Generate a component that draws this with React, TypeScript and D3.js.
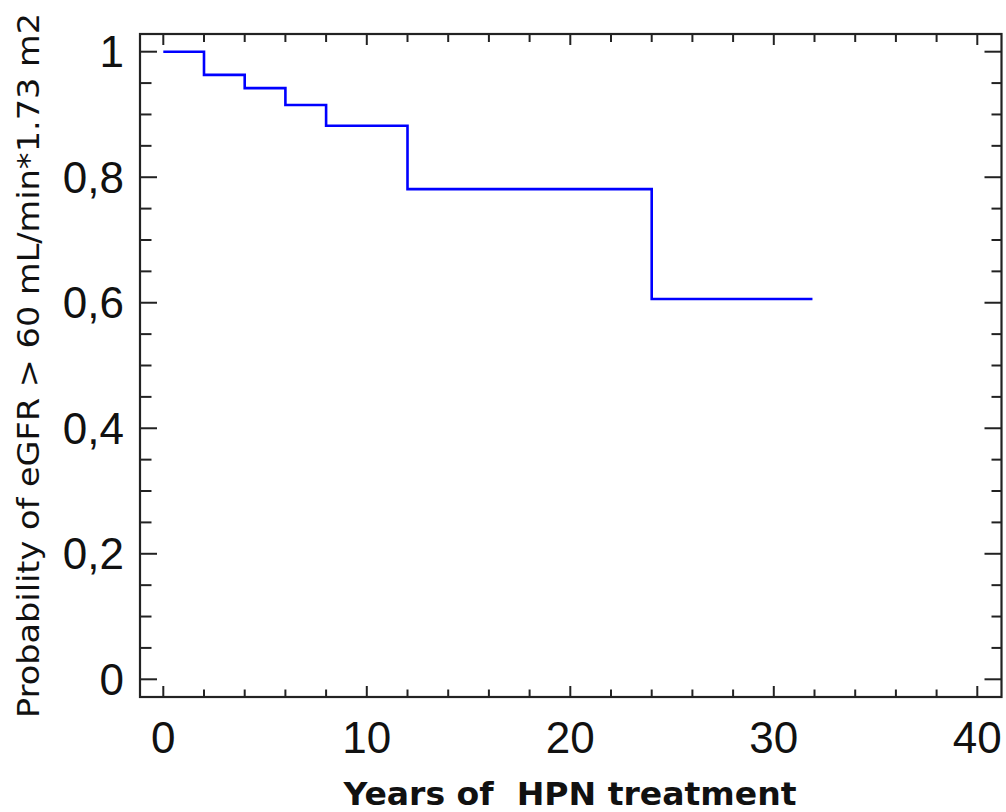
import React from "react";
import * as d3 from "d3";

const times = [0, 2, 4, 6, 8, 12, 24, 31.9];
const survival = [1, 0.963, 0.942, 0.915, 0.882, 0.781, 0.606, 0.606];
const xMajorTicks = [0, 10, 20, 30, 40];
const yMajorTicks = [0, 0.2, 0.4, 0.6, 0.8, 1];
const yTickLabels = ["0", "0,2", "0,4", "0,6", "0,8", "1"];
const xLabel = "Years of\u00a0 HPN treatment";
const yLabel = "Probability of eGFR > 60 mL/min*1.73 m2";

export default function App() {
  const W = 1006, H = 812;
  const frame = { left: 140, right: 1001.5, top: 34, bottom: 697 };
  const x = d3.scaleLinear().domain([0, 40]).range([163.3, 977.3]);
  const y = d3.scaleLinear().domain([0, 1]).range([679.3, 51.7]);

  const xMinor = d3.range(0, 40.001, 2).filter((v) => v % 10 !== 0);
  const yMinor = d3.range(0, 1.0001, 0.05).filter((v) => Math.abs(Math.round(v * 5) - v * 5) > 1e-6);

  const pts: [number, number][] = times.map((t, i) => [t, survival[i]]);
  const line = d3
    .line<[number, number]>()
    .x((d) => x(d[0]))
    .y((d) => y(d[1]))
    .curve(d3.curveStepAfter);

  const axisColor = "#222";
  const tickFont = "'Liberation Sans', Arial, sans-serif";

  return (
    <svg
      width={W}
      height={H}
      style={{ position: "absolute", left: 0, top: 0, background: "#fff" }}
    >
      <rect x={0} y={0} width={W} height={H} fill="#fff" />
      {/* frame */}
      <rect
        x={frame.left}
        y={frame.top}
        width={frame.right - frame.left}
        height={frame.bottom - frame.top}
        fill="none"
        stroke={axisColor}
        strokeWidth={2.2}
      />
      {/* x ticks bottom & top */}
      {xMajorTicks.map((v) => (
        <g key={"xm" + v}>
          <line x1={x(v)} x2={x(v)} y1={frame.bottom} y2={frame.bottom - 11} stroke={axisColor} strokeWidth={2} />
          <line x1={x(v)} x2={x(v)} y1={frame.top} y2={frame.top + 11} stroke={axisColor} strokeWidth={2} />
          <text
            x={x(v)}
            y={753}
            textAnchor="middle"
            fontFamily={tickFont}
            fontSize={44}
            fill="#111"
          >
            {String(v)}
          </text>
        </g>
      ))}
      {xMinor.map((v) => (
        <g key={"xn" + v}>
          <line x1={x(v)} x2={x(v)} y1={frame.bottom} y2={frame.bottom - 7.5} stroke={axisColor} strokeWidth={2} />
          <line x1={x(v)} x2={x(v)} y1={frame.top} y2={frame.top + 8} stroke={axisColor} strokeWidth={2} />
        </g>
      ))}
      {/* y ticks left & right */}
      {yMajorTicks.map((v, i) => (
        <g key={"ym" + v}>
          <line x1={frame.left} x2={frame.left + 17} y1={y(v)} y2={y(v)} stroke={axisColor} strokeWidth={2} />
          <line x1={frame.right} x2={frame.right - 17} y1={y(v)} y2={y(v)} stroke={axisColor} strokeWidth={2} />
          <text
            x={124}
            y={y(v) + 15.5}
            textAnchor="end"
            fontFamily={tickFont}
            fontSize={44}
            fill="#111"
          >
            {yTickLabels[i]}
          </text>
        </g>
      ))}
      {yMinor.map((v) => (
        <g key={"yn" + v}>
          <line x1={frame.left} x2={frame.left + 11.5} y1={y(v)} y2={y(v)} stroke={axisColor} strokeWidth={2} />
          <line x1={frame.right} x2={frame.right - 10} y1={y(v)} y2={y(v)} stroke={axisColor} strokeWidth={2} />
        </g>
      ))}
      {/* survival curve */}
      <path d={line(pts) || ""} fill="none" stroke="#0000ff" strokeWidth={2.6} />
      {/* axis labels */}
      <text
        x={343.5}
        y={805}
        fontFamily="'DejaVu Sans', Verdana, sans-serif"
        fontWeight="bold"
        fontSize={32}
        textLength={453}
        lengthAdjust="spacingAndGlyphs"
        fill="#111"
      >
        {xLabel}
      </text>
      <text
        transform={`translate(38.5, 718) rotate(-90)`}
        x={0}
        y={0}
        fontFamily="'DejaVu Sans', Verdana, sans-serif"
        fontSize={30}
        textLength={705}
        lengthAdjust="spacingAndGlyphs"
        fill="#111"
      >
        {yLabel}
      </text>
    </svg>
  );
}
